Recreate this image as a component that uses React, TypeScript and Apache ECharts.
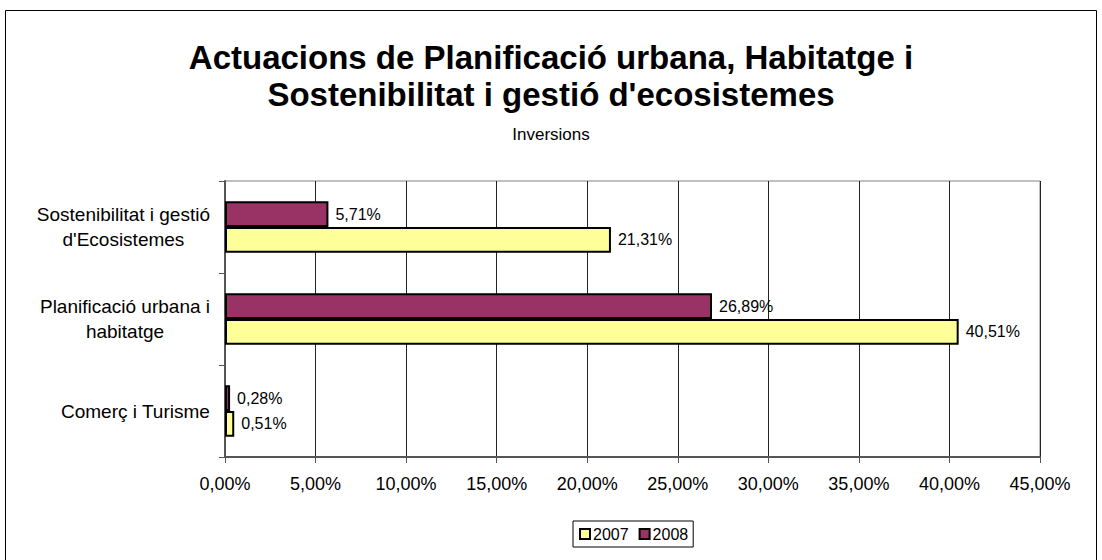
import React, { useEffect, useRef } from "react";
import * as echarts from "echarts";

const categories = [
  "Comerç i Turisme",
  "Planificació urbana i\nhabitatge",
  "Sostenibilitat i gestió\nd'Ecosistemes",
];
const series2007 = [0.51, 40.51, 21.31];
const series2008 = [0.28, 26.89, 5.71];
const seriesNames = ["2007", "2008"];
const titleText = "Actuacions de Planificació urbana, Habitatge i\nSostenibilitat i gestió d'ecosistemes";
const subtitleText = "Inversions";

const FONT = 'Arial, "Liberation Sans", sans-serif';
const fmt = (v: number) => v.toFixed(2).replace(".", ",") + "%";

export default function App() {
  const ref = useRef<HTMLDivElement>(null);
  useEffect(() => {
    document.body.style.margin = "0";
    const chart = echarts.init(ref.current!, null, { renderer: "svg" });
    const barLabel = {
      show: true,
      position: "right" as const,
      distance: 7,
      color: "#000",
      fontFamily: FONT,
      fontSize: 16,
      formatter: (p: any) => fmt(p.value),
    };
    chart.setOption({
      animation: false,
      backgroundColor: "#fff",
      title: {
        text: titleText,
        subtext: subtitleText,
        left: "center",
        top: 34,
        itemGap: 13,
        textStyle: {
          fontFamily: FONT,
          fontWeight: "bold",
          fontSize: 33,
          lineHeight: 37,
          color: "#000",
        },
        subtextStyle: {
          fontFamily: FONT,
          fontSize: 17,
          color: "#000",
        },
      },
      graphic: [
        {
          type: "rect",
          shape: { x: 5.5, y: 10.5, width: 1091, height: 560 },
          style: { fill: "none", stroke: "#000", lineWidth: 1 },
          silent: true,
          z: 100,
        },
      ],
      legend: {
        data: seriesNames,
        left: 573,
        top: 521,
        orient: "horizontal",
        borderColor: "#000",
        borderWidth: 1,
        borderRadius: 0,
        padding: [5, 5, 5, 6],
        itemWidth: 10,
        itemHeight: 10,
        itemGap: 10,
        icon: "rect",
        textStyle: { fontFamily: FONT, fontSize: 16, color: "#000", padding: [0, 0, 0, -2] },
      },
      grid: {
        left: 225,
        right: 62,
        top: 181,
        bottom: 103,
        show: true,
        borderColor: "#808080",
        borderWidth: 1,
      },
      xAxis: {
        type: "value",
        min: 0,
        max: 45,
        interval: 5,
        axisLine: { show: true, lineStyle: { color: "#555", width: 2 } },
        axisTick: { show: true, length: 6, lineStyle: { color: "#555" } },
        splitLine: { show: true, lineStyle: { color: "#222", width: 1 } },
        axisLabel: {
          fontFamily: FONT,
          fontSize: 18,
          color: "#000",
          margin: 18,
          formatter: (v: number) => fmt(v),
        },
      },
      yAxis: {
        type: "category",
        data: categories,
        axisLine: { show: true, lineStyle: { color: "#555", width: 2 } },
        axisTick: { show: true, length: 6, lineStyle: { color: "#555" } },
        axisLabel: {
          fontFamily: FONT,
          fontSize: 19,
          color: "#000",
          margin: 15,
          align: "right",
          formatter: (v: string) =>
            v
              .split("\n")
              .map((line) => "{c|" + line + "}")
              .join("\n"),
          rich: {
            c: {
              align: "center",
              fontFamily: FONT,
              fontSize: 19,
              lineHeight: 25,
              color: "#000",
            },
          },
        },
      },
      series: [
        {
          name: seriesNames[1],
          type: "bar",
          data: series2008,
          barCategoryGap: "44%",
          barGap: "0%",
          itemStyle: { color: "#993366", borderColor: "#000", borderWidth: 2 },
          label: barLabel,
        },
        {
          name: seriesNames[0],
          type: "bar",
          data: series2007,
          barCategoryGap: "44%",
          barGap: "0%",
          itemStyle: { color: "#FFFF99", borderColor: "#000", borderWidth: 2 },
          label: barLabel,
        },
      ],
    });
    return () => chart.dispose();
  }, []);
  return (
    <div
      ref={ref}
      style={{ position: "absolute", left: 0, top: 0, width: 1102, height: 560 }}
    />
  );
}
